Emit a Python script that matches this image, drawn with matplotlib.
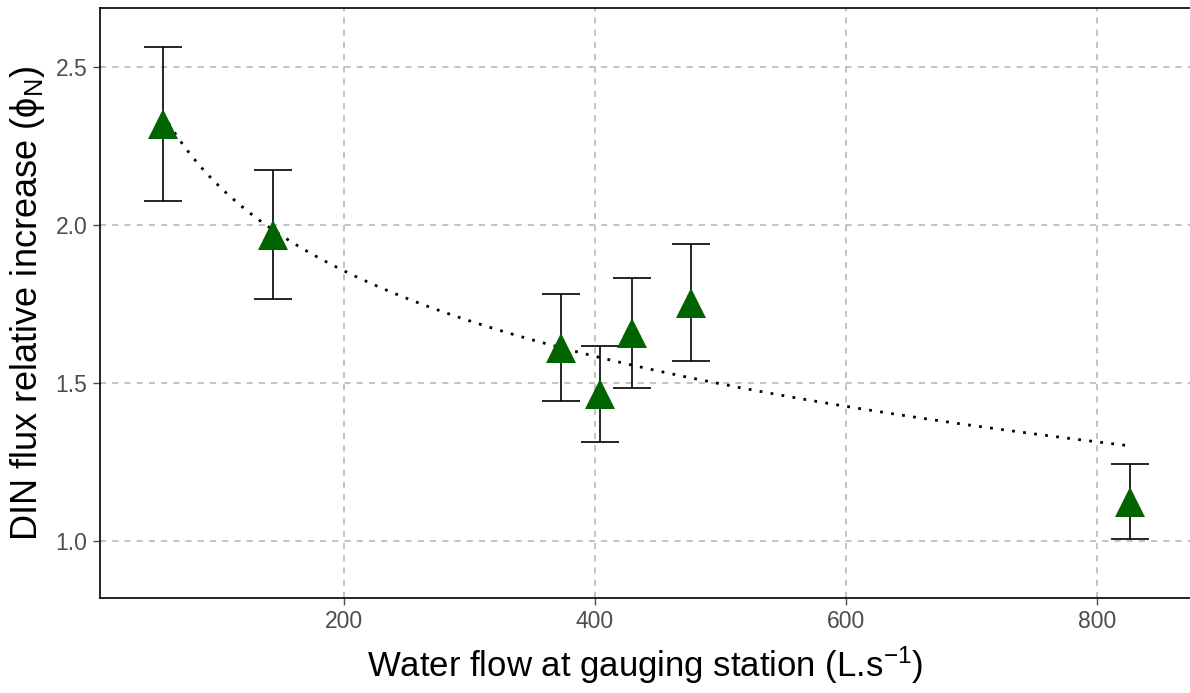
import numpy as np
import matplotlib
matplotlib.use("Agg")
from matplotlib import pyplot as plt

plt.rcParams['font.family'] = ['Liberation Sans', 'DejaVu Sans']
plt.rcParams['mathtext.fontset'] = 'custom'
plt.rcParams['mathtext.rm'] = 'Liberation Sans'
plt.rcParams['mathtext.it'] = 'Liberation Sans:italic'

# valeurs
debit = [56, 144, 373, 404, 430, 477, 826]
phi = [2.32, 1.97, 1.612, 1.465, 1.658, 1.755, 1.125]
erreur = [0.243, 0.205, 0.17, 0.152, 0.174, 0.185, 0.119]
xticks = [200, 400, 600, 800]
yticks = [1.0, 1.5, 2.0, 2.5]

# ajustement logarithmique (courbe pointillee)
b, a = np.polyfit(np.log(debit), phi, 1)
xs = np.linspace(min(debit), max(debit), 200)
ys = a + b*np.log(xs)

fig = plt.figure(figsize=(11.9, 6.93), dpi=100)
ax = fig.add_axes([100/1190, 1-598/693, 1-100/1190, 590/693])

ax.grid(True, color='#b3b3b3', linestyle=(0, (4, 4)), linewidth=1.1)
ax.set_axisbelow(True)

ax.plot(xs, ys, color='black', linewidth=2, linestyle=(0, (1, 3)), zorder=3)
ax.errorbar(debit, phi, yerr=erreur, fmt='none', ecolor='black',
            elinewidth=1.2, capsize=14, capthick=1.2, zorder=4)
ax.plot(debit, phi, linestyle='none', marker='^', markersize=22,
        color='#006400', markeredgewidth=0, zorder=5)

ax.set_xlim(6, 874)
ax.set_ylim(0.82, 2.687)
ax.set_xticks(xticks)
ax.set_yticks(yticks)
ax.set_yticklabels([f'{v:.1f}' for v in yticks])
ax.tick_params(colors='#4d4d4d', labelsize=16.5, length=5, width=1, pad=4)

for s in ['left', 'top', 'bottom']:
    ax.spines[s].set_color('black')
    ax.spines[s].set_linewidth(1.2)
ax.spines['right'].set_visible(False)

ax.set_xlabel('Water flow at gauging station (L.s$^{-1}$)', fontsize=25, labelpad=8)
ax.set_ylabel('DIN flux relative increase ($\\mathrm{ϕ}_{\\mathrm{N}}$)', fontsize=26, labelpad=6)

fig.savefig('out.png', dpi=100)
